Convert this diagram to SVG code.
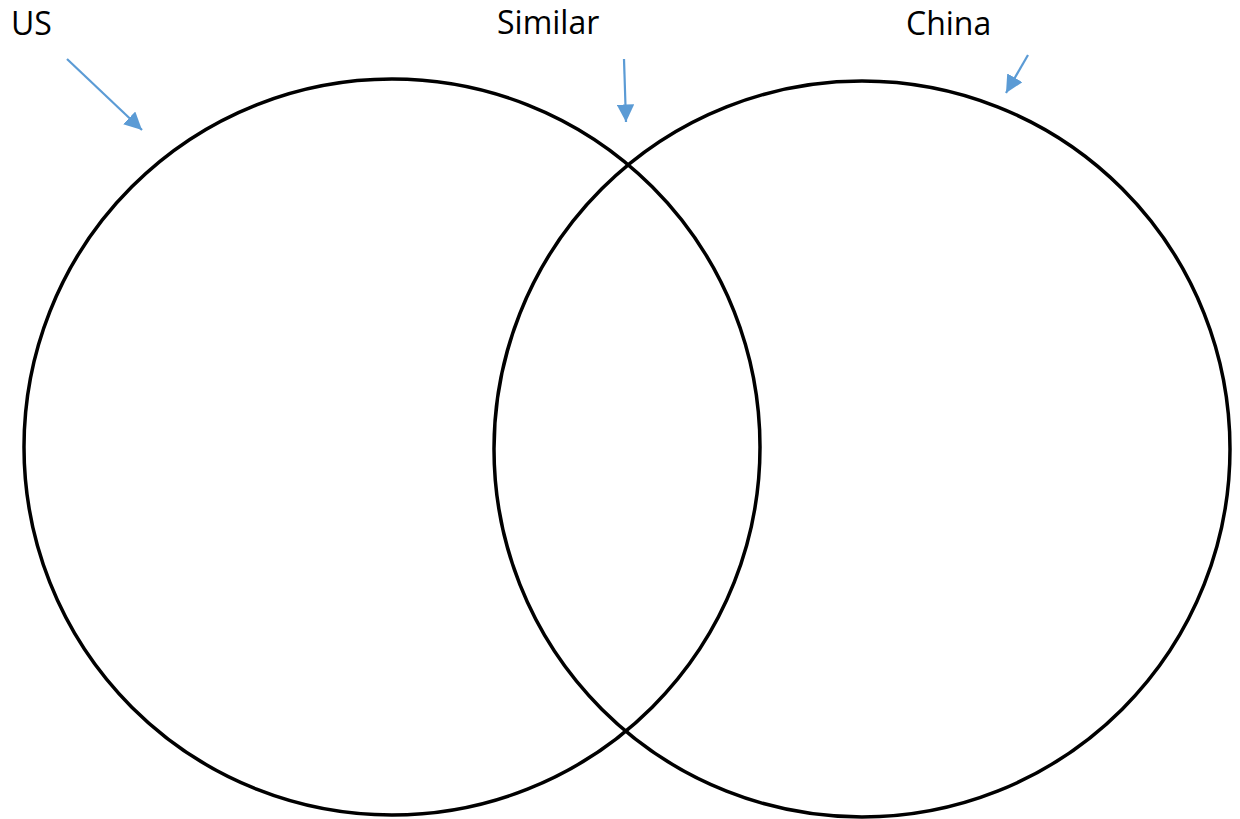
<svg xmlns="http://www.w3.org/2000/svg" width="1240" height="819" viewBox="0 0 1240 819">
<style>
.c{fill:none;stroke:#000;stroke-width:3.5}
.t{font-family:"Open Sans","Liberation Sans",sans-serif;font-size:32px;fill:#000}
.a{stroke:#5B9BD5;stroke-width:2.2;fill:none;marker-end:url(#ah)}
</style>
<defs>
<marker id="ah" viewBox="0 0 10 10" refX="10" refY="5" markerWidth="8" markerHeight="8" orient="auto" markerUnits="strokeWidth">
<path d="M0,0 L10,5 L0,10 z" fill="#5B9BD5"/>
</marker>
</defs>
<rect width="1240" height="819" fill="#fff"/>
<g id="us-circle"><circle class="c" cx="392" cy="447" r="368"/></g>
<g id="china-circle"><circle class="c" cx="862" cy="449" r="368"/></g>
<g id="labels">
<text class="t" x="11" y="35">US</text>
<text class="t" x="497" y="34">Similar</text>
<text class="t" x="906" y="35">China</text>
</g>
<g id="connectors">
<line class="a" x1="67" y1="59" x2="142" y2="130"/>
<line class="a" x1="624" y1="59" x2="626" y2="122"/>
<line class="a" x1="1028" y1="55" x2="1006" y2="93"/>
</g>
</svg>
